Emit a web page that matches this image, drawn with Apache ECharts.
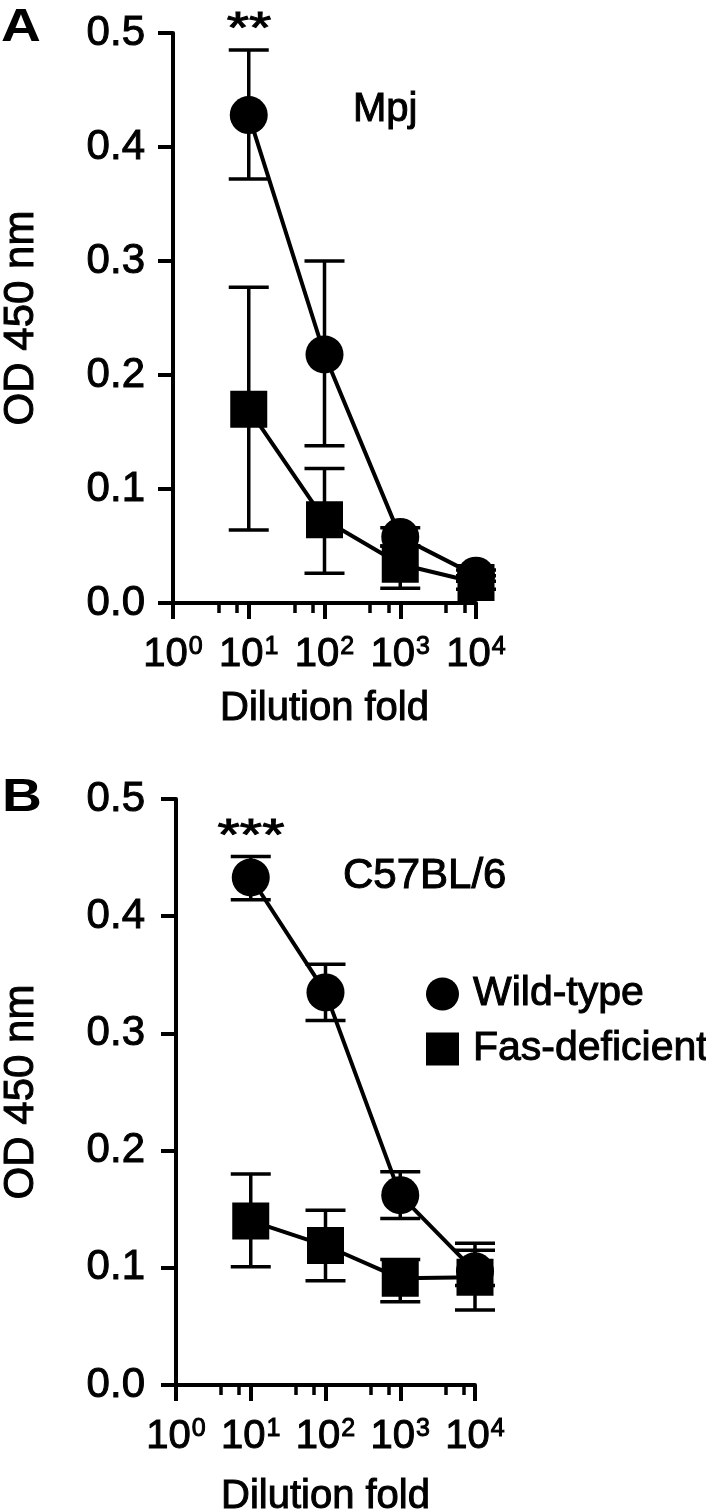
<!DOCTYPE html>
<html><head><meta charset="utf-8">
<script src="https://cdn.jsdelivr.net/npm/echarts@6/dist/echarts.min.js"></script>
<style>html,body{margin:0;padding:0;background:#fff}#c{width:706px;height:1512px}</style>
</head><body><div id="c"></div>
<script>
// ---------- data ----------
const dilution = [10, 100, 1000, 10000];
const xTickValues = [1, 10, 100, 1000, 10000];
const xMinorTickValues = [4, 7, 40, 70, 400, 700, 4000, 7000];
const seriesNames = ['Wild-type', 'Fas-deficient'];
// Panel A (Mpj)
const mpjWildMean = [0.428, 0.218, 0.058, 0.024];
const mpjWildLow  = [0.372, 0.138, 0.050, 0.019];
const mpjWildHigh = [0.485, 0.300, 0.066, 0.029];
const mpjFasMean  = [0.170, 0.073, 0.034, 0.018];
const mpjFasLow   = [0.064, 0.026, 0.013, 0.012];
const mpjFasHigh  = [0.277, 0.118, 0.050, 0.024];
// Panel B (C57BL/6)
const b6WildMean = [0.433, 0.335, 0.162, 0.097];
const b6WildLow  = [0.414, 0.311, 0.142, 0.085];
const b6WildHigh = [0.451, 0.359, 0.182, 0.121];
const b6FasMean  = [0.140, 0.119, 0.091, 0.092];
const b6FasLow   = [0.101, 0.089, 0.071, 0.064];
const b6FasHigh  = [0.180, 0.149, 0.107, 0.115];

// ---------- styling ----------
const FONT = '"Liberation Sans", Arial, Helvetica, sans-serif';
const BLACK = '#000';
const TB = {textBorderColor: BLACK, textBorderWidth: 1};

const chart = echarts.init(document.getElementById('c'), null, {renderer: 'canvas'});

function errRender(params, api) {
  const x = api.value(0);
  const lo = api.coord([x, api.value(1)]);
  const hi = api.coord([x, api.value(2)]);
  const hw = 20;
  const st = {stroke: BLACK, lineWidth: 3.5, fill: null};
  return {type: 'group', children: [
    {type: 'line', shape: {x1: lo[0], y1: lo[1], x2: hi[0], y2: hi[1]}, style: st},
    {type: 'line', shape: {x1: lo[0] - hw, y1: lo[1], x2: lo[0] + hw, y2: lo[1]}, style: st},
    {type: 'line', shape: {x1: hi[0] - hw, y1: hi[1], x2: hi[0] + hw, y2: hi[1]}, style: st}
  ]};
}

function mainX(gridIndex, nameGap) {
  return {
    type: 'log', logBase: 10, min: 1, max: 10000, gridIndex: gridIndex,
    position: 'bottom',
    axisLine: {show: true, lineStyle: {color: BLACK, width: 4}},
    axisTick: {show: true, length: 16, customValues: xTickValues, lineStyle: {color: BLACK, width: 4}},
    axisLabel: {
      customValues: xTickValues, margin: 32, color: BLACK,
      formatter: v => '{b|10}{s|' + Math.round(Math.log10(v)) + '}',
      rich: {
        b: Object.assign({fontSize: 40, fontFamily: FONT, color: BLACK}, TB),
        s: Object.assign({fontSize: 25, fontFamily: FONT, color: BLACK, verticalAlign: 'top', padding: [0, 0, 0, 1]}, TB)
      }
    },
    splitLine: {show: false},
    name: 'Dilution fold', nameLocation: 'middle', nameGap: nameGap,
    nameTextStyle: Object.assign({fontSize: 40, fontFamily: FONT, color: BLACK}, TB)
  };
}
function minorX(gridIndex) {
  return {
    type: 'log', logBase: 10, min: 1, max: 10000, gridIndex: gridIndex,
    position: 'bottom',
    axisLine: {show: false},
    axisTick: {show: true, length: 10, customValues: xMinorTickValues, lineStyle: {color: BLACK, width: 3.5}},
    axisLabel: {show: false},
    splitLine: {show: false}
  };
}
function yAx(gridIndex, margin, nameGap) {
  return {
    type: 'value', min: 0, max: 0.5, interval: 0.1, gridIndex: gridIndex,
    axisLine: {show: true, lineStyle: {color: BLACK, width: 4}},
    axisTick: {show: true, length: 15, lineStyle: {color: BLACK, width: 4}},
    axisLabel: Object.assign({formatter: v => v.toFixed(1), fontSize: 42, fontFamily: FONT, color: BLACK, margin: margin}, TB),
    splitLine: {show: false},
    name: 'OD 450 nm', nameLocation: 'middle', nameGap: nameGap,
    nameTextStyle: Object.assign({fontSize: 42, fontFamily: FONT, color: BLACK}, TB)
  };
}

function pairs(mean) { return dilution.map((d, k) => [d, mean[k]]); }
function errs(low, high) { return dilution.map((d, k) => [d, low[k], high[k]]); }

function panelSeries(idx, wm, wl, wh, fm, fl, fh) {
  const xi = idx * 2, yi = idx;
  return [
    {type: 'custom', xAxisIndex: xi, yAxisIndex: yi, renderItem: errRender, data: errs(wl, wh),
     encode: {x: 0, y: [1, 2]}, clip: false, z: 1, silent: true},
    {type: 'custom', xAxisIndex: xi, yAxisIndex: yi, renderItem: errRender, data: errs(fl, fh),
     encode: {x: 0, y: [1, 2]}, clip: false, z: 1, silent: true},
    {type: 'line', name: seriesNames[0], xAxisIndex: xi, yAxisIndex: yi, data: pairs(wm),
     symbol: 'circle', symbolSize: 38, showSymbol: true, z: 3,
     lineStyle: {color: BLACK, width: 4}, itemStyle: {color: BLACK}},
    {type: 'line', name: seriesNames[1], xAxisIndex: xi, yAxisIndex: yi, data: pairs(fm),
     symbol: 'rect', symbolSize: 37, showSymbol: true, z: 3,
     lineStyle: {color: BLACK, width: 4}, itemStyle: {color: BLACK}}
  ];
}

function label(text, x, y, size, opts) {
  opts = opts || {};
  const style = {text: text, fontSize: size, fontFamily: FONT, fontWeight: opts.bold ? 'bold' : 'normal',
    fill: BLACK, align: opts.align || 'left', verticalAlign: 'middle'};
  if (!opts.bold) { style.stroke = BLACK; style.lineWidth = 1; }
  return {type: 'text', x: x, y: y, scaleX: opts.scaleX || 1, style: style};
}

const option = {
  animation: false,
  backgroundColor: '#fff',
  grid: [
    {left: 173, top: 33, width: 303, height: 570, outerBoundsMode: 'none'},
    {left: 176, top: 799, width: 299, height: 586, outerBoundsMode: 'none'}
  ],
  xAxis: [mainX(0, 86), minorX(0), mainX(1, 92), minorX(1)],
  yAxis: [yAx(0, 28, 131), yAx(1, 31, 134)],
  legend: {
    data: [{name: seriesNames[0], icon: 'circle'}, {name: seriesNames[1], icon: 'rect'}],
    orient: 'vertical', left: 421, top: 968, itemWidth: 33, itemHeight: 33, itemGap: 13,
    selectedMode: false,
    textStyle: Object.assign({fontSize: 41, fontFamily: FONT, color: BLACK, lineHeight: 40, padding: [0, 0, 0, 9]}, TB)
  },
  graphic: [
    label('A', 1, 28, 46, {bold: true, scaleX: 1.2}),
    label('B', 2, 798, 46, {bold: true, scaleX: 1.2}),
    label('**', 249, 31, 44, {align: 'center', scaleX: 1.3}),
    label('***', 251, 838, 44, {align: 'center', scaleX: 1.3}),
    label('Mpj', 353, 110, 40),
    label('C57BL/6', 343, 876, 42)
  ],
  series: [].concat(
    panelSeries(0, mpjWildMean, mpjWildLow, mpjWildHigh, mpjFasMean, mpjFasLow, mpjFasHigh),
    panelSeries(1, b6WildMean, b6WildLow, b6WildHigh, b6FasMean, b6FasLow, b6FasHigh)
  )
};
chart.setOption(option);
</script></body></html>
